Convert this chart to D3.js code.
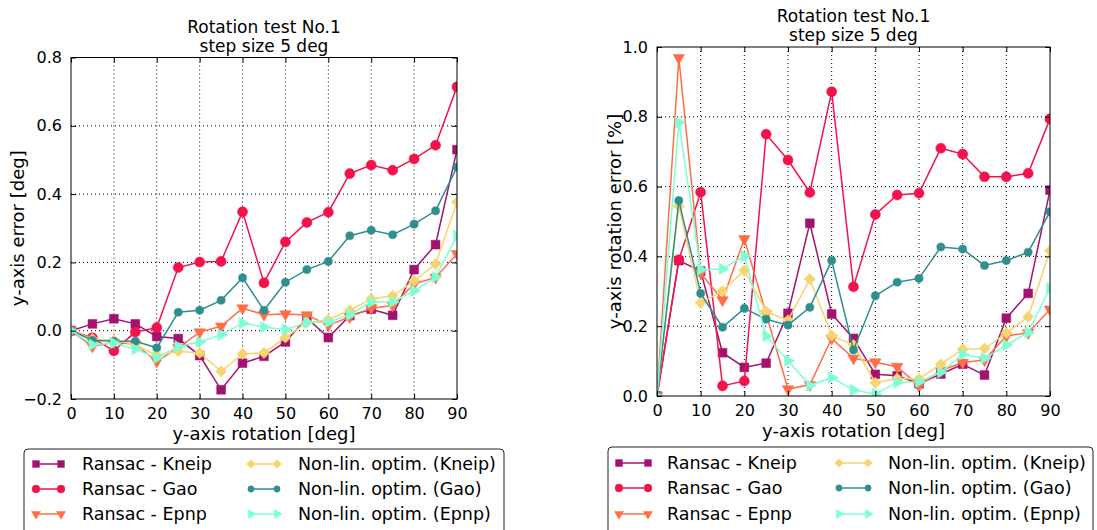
<!DOCTYPE html>
<html>
<head>
<meta charset="utf-8">
<script src="https://cdn.jsdelivr.net/npm/d3@7"></script>
<style>
  html, body { margin: 0; padding: 0; background: #fff; }
  svg text { font-family: "DejaVu Sans", sans-serif; fill: #000; }
</style>
</head>
<body>
<svg id="chart" width="1097" height="530"></svg>
<script>
// Rotation angles (deg)
const angles = [0, 5, 10, 15, 20, 25, 30, 35, 40, 45, 50, 55, 60, 65, 70, 75, 80, 85, 90];

// y-axis error [deg]
const ransacKneipErr = [0, 0.02, 0.035, 0.02, -0.017, -0.023, -0.073, -0.173, -0.095, -0.075, -0.033, 0.037, -0.02, 0.044, 0.063, 0.045, 0.179, 0.252, 0.53];
const ransacGaoErr   = [0, -0.021, -0.059, -0.004, 0.009, 0.185, 0.201, 0.203, 0.348, 0.14, 0.26, 0.317, 0.347, 0.46, 0.485, 0.47, 0.503, 0.543, 0.714];
const ransacEpnpErr  = [0, -0.046, -0.034, -0.04, -0.09, -0.05, -0.004, 0.013, 0.066, 0.047, 0.049, 0.046, 0.016, 0.04, 0.066, 0.074, 0.137, 0.156, 0.225];
const nonlinKneipErr = [0, -0.024, -0.028, -0.04, -0.073, -0.06, -0.065, -0.119, -0.068, -0.065, -0.02, 0.024, 0.032, 0.06, 0.093, 0.102, 0.146, 0.195, 0.377];
const nonlinGaoErr   = [0, -0.028, -0.031, -0.031, -0.05, 0.054, 0.06, 0.089, 0.155, 0.06, 0.142, 0.179, 0.203, 0.278, 0.294, 0.281, 0.312, 0.351, 0.479];
const nonlinEpnpErr  = [0, -0.041, -0.036, -0.054, -0.08, -0.046, -0.033, -0.012, 0.022, 0.011, 0.003, 0.024, 0.025, 0.047, 0.084, 0.084, 0.117, 0.157, 0.278];

// y-axis rotation error [%]
const ransacKneipPct = [0, 0.388, 0.358, 0.124, 0.082, 0.094, 0.237, 0.495, 0.235, 0.165, 0.062, 0.058, 0.035, 0.063, 0.091, 0.06, 0.223, 0.294, 0.59];
const ransacGaoPct   = [0, 0.39, 0.584, 0.029, 0.043, 0.75, 0.676, 0.583, 0.872, 0.313, 0.52, 0.576, 0.581, 0.71, 0.693, 0.628, 0.628, 0.638, 0.794];
const ransacEpnpPct  = [0, 0.969, 0.352, 0.275, 0.45, 0.235, 0.02, 0.032, 0.165, 0.108, 0.097, 0.084, 0.029, 0.073, 0.096, 0.103, 0.172, 0.181, 0.248];
const nonlinKneipPct = [0, 0.544, 0.267, 0.301, 0.36, 0.242, 0.217, 0.335, 0.173, 0.146, 0.038, 0.05, 0.049, 0.091, 0.134, 0.136, 0.18, 0.227, 0.416];
const nonlinGaoPct   = [0, 0.56, 0.294, 0.197, 0.251, 0.22, 0.203, 0.254, 0.388, 0.132, 0.287, 0.326, 0.337, 0.427, 0.421, 0.374, 0.388, 0.412, 0.528];
const nonlinEpnpPct  = [0, 0.784, 0.362, 0.364, 0.401, 0.172, 0.101, 0.03, 0.053, 0.017, 0.006, 0.039, 0.041, 0.068, 0.119, 0.108, 0.146, 0.182, 0.309];

const seriesNames = ["Ransac - Kneip", "Ransac - Gao", "Ransac - Epnp",
                     "Non-lin. optim. (Kneip)", "Non-lin. optim. (Gao)", "Non-lin. optim. (Epnp)"];

const xTicks = [0, 10, 20, 30, 40, 50, 60, 70, 80, 90];
const yTicksErr = [-0.2, 0, 0.2, 0.4, 0.6, 0.8];
const yTicksPct = [0, 0.2, 0.4, 0.6, 0.8, 1.0];

const titleLines = ["Rotation test No.1", "step size 5 deg"];
const xLabel = "y-axis rotation [deg]";

// styling per series: colour, marker shape, marker size, rotation
const styles = [
  { color: "#a3126e", shape: d3.symbolSquare,   size: 78, rot: 0 },
  { color: "#f2124c", shape: d3.symbolCircle,   size: 80, rot: 0 },
  { color: "#ff6e46", shape: d3.symbolTriangle, size: 58, rot: 180 },
  { color: "#f8d46e", shape: d3.symbolSquare,   size: 62, rot: 45 },
  { color: "#2f8e8e", shape: d3.symbolCircle,   size: 52, rot: 0 },
  { color: "#7dffd3", shape: d3.symbolTriangle, size: 58, rot: 90 }
];

const svg = d3.select("#chart");

function drawPanel(cfg) {
  const { id, x0, x1, y0, y1, yDomain, yTicks, yLabel, yLabelX, series } = cfg;
  const x = d3.scaleLinear().domain([0, 90]).range([x0, x1]);
  const y = d3.scaleLinear().domain(yDomain).range([y1, y0]);
  const g = svg.append("g");

  g.append("clipPath").attr("id", id)
    .append("rect").attr("x", x0).attr("y", y0).attr("width", x1 - x0).attr("height", y1 - y0);

  // dotted grid
  const grid = g.append("g");
  grid.selectAll("line.gx").data(xTicks.slice(1, -1)).join("line")
    .attr("x1", d => x(d)).attr("x2", d => x(d)).attr("y1", y0).attr("y2", y1)
    .attr("stroke", "#000").attr("stroke-width", 1).attr("stroke-dasharray", "1,3");
  grid.selectAll("line.gy").data(yTicks.slice(1, -1)).join("line")
    .attr("y1", d => y(d)).attr("y2", d => y(d)).attr("x1", x0).attr("x2", x1)
    .attr("stroke", "#000").attr("stroke-width", 1).attr("stroke-dasharray", "1,3");

  // series
  const plot = g.append("g").attr("clip-path", `url(#${id})`);
  const line = d3.line().x((d, i) => x(angles[i])).y(d => y(d));
  series.forEach((vals, si) => {
    const st = styles[si];
    plot.append("path").datum(vals).attr("d", line)
      .attr("fill", "none").attr("stroke", st.color).attr("stroke-width", 1.5);
    plot.selectAll(null).data(vals).join("path")
      .attr("d", d3.symbol().type(st.shape).size(st.size))
      .attr("transform", (d, i) => `translate(${x(angles[i])},${y(d)}) rotate(${st.rot})`)
      .attr("fill", st.color).attr("stroke", st.color).attr("stroke-width", 0.5);
  });

  // axes: labels on bottom/left, inward ticks on all four sides
  const fmt = d => (d < 0 ? "\u2212" : "") + Math.abs(d).toFixed(1);
  const bottom = g.append("g").attr("transform", `translate(0,${y1})`)
    .call(d3.axisBottom(x).tickValues(xTicks).tickSize(-5).tickPadding(9).tickFormat(d3.format("d")));
  const top = g.append("g").attr("transform", `translate(0,${y0})`)
    .call(d3.axisTop(x).tickValues(xTicks).tickSize(-5).tickFormat(""));
  const left = g.append("g").attr("transform", `translate(${x0},0)`)
    .call(d3.axisLeft(y).tickValues(yTicks).tickSize(-5).tickPadding(9).tickFormat(fmt));
  const right = g.append("g").attr("transform", `translate(${x1},0)`)
    .call(d3.axisRight(y).tickValues(yTicks).tickSize(-5).tickFormat(""));
  [bottom, top, left, right].forEach(a => {
    a.select(".domain").remove();
    a.selectAll("line").attr("stroke", "#000");
    a.selectAll("text").style("font-size", "16px").attr("fill", "#000");
  });

  // frame
  g.append("rect").attr("x", x0).attr("y", y0).attr("width", x1 - x0).attr("height", y1 - y0)
    .attr("fill", "none").attr("stroke", "#000").attr("stroke-width", 1);

  // title
  const cx = (x0 + x1) / 2;
  g.append("text").attr("x", cx).attr("y", y0 - 25).attr("text-anchor", "middle")
    .style("font-size", "17px").text(titleLines[0]);
  g.append("text").attr("x", cx).attr("y", y0 - 6).attr("text-anchor", "middle")
    .style("font-size", "17px").text(titleLines[1]);

  // axis labels
  g.append("text").attr("x", cx).attr("y", y1 + 41).attr("text-anchor", "middle")
    .style("font-size", "18px").text(xLabel);
  g.append("text").attr("transform", `translate(${yLabelX},${(y0 + y1) / 2}) rotate(-90)`)
    .attr("text-anchor", "middle").style("font-size", "18px").text(yLabel);
}

drawPanel({
  id: "clipErr", x0: 71, x1: 457, y0: 57.5, y1: 399,
  yDomain: [-0.2, 0.8], yTicks: yTicksErr, yLabel: "y-axis error [deg]", yLabelX: 24,
  series: [ransacKneipErr, ransacGaoErr, ransacEpnpErr, nonlinKneipErr, nonlinGaoErr, nonlinEpnpErr]
});
drawPanel({
  id: "clipPct", x0: 657, x1: 1050, y0: 47, y1: 396,
  yDomain: [0, 1], yTicks: yTicksPct, yLabel: "y-axis rotation error [%]", yLabelX: 621,
  series: [ransacKneipPct, ransacGaoPct, ransacEpnpPct, nonlinKneipPct, nonlinGaoPct, nonlinEpnpPct]
});

// legends below each panel
function drawLegend(cfg) {
  const { bx, by, bw, rows, col1, col2 } = cfg;
  const g = svg.append("g");
  g.append("rect").attr("x", bx).attr("y", by).attr("width", bw).attr("height", 120)
    .attr("rx", 4).attr("fill", "#fff").attr("stroke", "#222").attr("stroke-width", 1);
  seriesNames.forEach((name, i) => {
    const col = i < 3 ? col1 : col2;
    const ry = rows[i % 3];
    const st = styles[i];
    g.append("line").attr("x1", col.l0).attr("x2", col.l1).attr("y1", ry).attr("y2", ry)
      .attr("stroke", st.color).attr("stroke-width", 1.5);
    [col.l0, col.l1].forEach(px => {
      g.append("path").attr("d", d3.symbol().type(st.shape).size(st.size * 0.6)())
        .attr("transform", `translate(${px},${ry}) rotate(${st.rot})`)
        .attr("fill", st.color).attr("stroke", st.color).attr("stroke-width", 0.5);
    });
    g.append("text").attr("x", col.t).attr("y", ry).attr("dy", "0.35em")
      .style("font-size", "17.5px").text(name);
  });
}

drawLegend({ bx: 24, by: 449, bw: 480, rows: [464, 489, 514],
  col1: { l0: 36, l1: 61, t: 82 }, col2: { l0: 251, l1: 277, t: 298 } });
drawLegend({ bx: 608, by: 447, bw: 485, rows: [463, 488, 514],
  col1: { l0: 619, l1: 648, t: 667 }, col2: { l0: 839, l1: 868, t: 888 } });
</script>
</body>
</html>
